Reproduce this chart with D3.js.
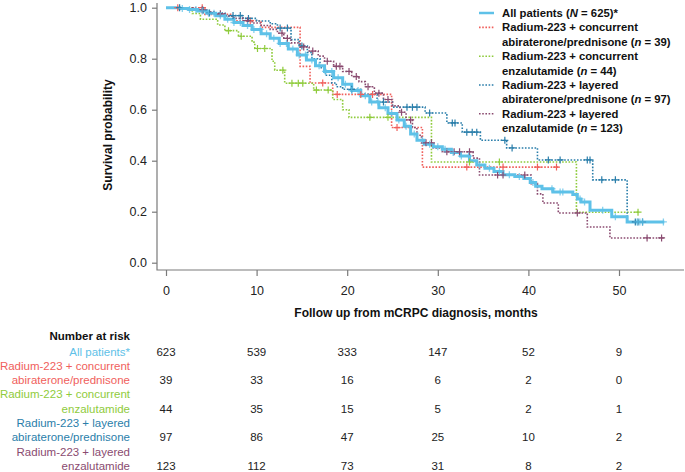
<!DOCTYPE html>
<html><head><meta charset="utf-8">
<script src="https://cdn.jsdelivr.net/npm/d3@7"></script>
<style>
html,body{margin:0;padding:0;background:#fff;}
svg{display:block;font-family:"Liberation Sans",Arial,Helvetica,sans-serif;}
</style></head>
<body>
<svg id="chart" width="685" height="472"></svg>
<script>
// ---------------- data ----------------
const monthTicks = [0, 10, 20, 30, 40, 50];
const survTicks = [0, 0.2, 0.4, 0.6, 0.8, 1.0];

const allPatientsSteps = [[0,1],[1.5,0.997],[2.5,0.993],[3.5,0.987],[4.5,0.978],[5.5,0.968],[6.5,0.955],[7.5,0.942],[8.5,0.93],[9.5,0.915],[10.5,0.898],[11.5,0.88],[12.5,0.86],[13.5,0.838],[14.5,0.815],[15.5,0.795],[16.5,0.772],[17.5,0.75],[18.5,0.725],[19.5,0.7],[20.5,0.675],[21.5,0.655],[22.5,0.63],[23.5,0.608],[24.5,0.585],[25.5,0.56],[26.3,0.535],[27,0.505],[27.7,0.48],[28.5,0.465],[29.5,0.455],[30.5,0.445],[31.5,0.432],[32.5,0.418],[33.5,0.4],[34.3,0.383],[35.2,0.37],[36.2,0.358],[37.2,0.345],[38.5,0.338],[39.5,0.33],[40.2,0.315],[40.8,0.3],[41.5,0.29],[42.7,0.277],[44.9,0.267],[45.4,0.25],[45.8,0.238],[46.8,0.206],[49.2,0.18],[50.9,0.16],[55,0.16]];
const allPatientsCensor = [1.8,2.6,3.3,4.0,4.7,5.3,6.0,6.8,7.5,8.2,9.0,9.7,10.4,11.1,11.9,12.6,13.3,14.0,14.7,15.4,16.1,16.9,17.6,18.3,19.0,19.8,20.5,21.2,22.0,22.7,23.4,24.2,24.9,25.7,26.5,27.4,28.3,29.1,30.0,30.8,31.7,32.6,33.4,34.6,35.7,36.8,37.9,39.0,40.5,42.6,43.5,43.8,45.7,46.2,48.2,49.6,52.0,52.3,52.6,54.9];

const concAbiSteps = [[0,1],[4.3,0.974],[7.3,0.949],[10.5,0.923],[14.8,0.77],[15.9,0.705],[18.4,0.66],[24.9,0.53],[28.3,0.375],[43.3,0.375]];
const concAbiCensor = [1.3,4.0,9.3,17.3,18.9,21.5,22.8,25.5,33.2,37.2,41.0,43.1];

const concEnzaSteps = [[0,1],[2.9,0.977],[3.8,0.955],[5.7,0.932],[6.5,0.91],[8.0,0.888],[9.5,0.865],[9.8,0.84],[11.7,0.79],[12.0,0.755],[13.1,0.704],[16.3,0.677],[18.4,0.64],[19.5,0.6],[20.2,0.57],[29.3,0.395],[45.3,0.198],[52.2,0.198]];
const concEnzaCensor = [6.9,8.3,10.1,10.9,12.9,13.9,14.6,15.1,16.6,17.9,22.5,24.5,33.5,36.8,52.1];

const layAbiSteps = [[0,1],[2.5,0.99],[4.5,0.979],[6.5,0.969],[8.5,0.958],[10,0.948],[11.5,0.937],[12.3,0.92],[13.8,0.875],[14.7,0.85],[15.6,0.825],[16.1,0.8],[17,0.765],[17.6,0.735],[18.3,0.705],[18.8,0.69],[19.5,0.68],[21.5,0.66],[23.3,0.63],[25,0.61],[28.6,0.587],[31.0,0.548],[32.7,0.512],[34.7,0.48],[37.6,0.45],[41.0,0.403],[47.1,0.325],[50.9,0.16],[52.9,0.16]];
const layAbiCensor = [1.5,4.1,4.8,7.4,8.2,9.1,12.6,13.4,15.0,20.5,24.0,26.6,27.2,27.7,29.1,31.6,31.9,33.2,33.8,34.3,37.4,38.2,42.2,43.5,46.5,46.8,48.1,49.6,51.8,52.1,52.6];

const layEnzaSteps = [[0,1],[3,0.992],[4.5,0.984],[5.5,0.976],[6.5,0.967],[7.5,0.958],[8.5,0.949],[9.5,0.94],[10.5,0.93],[11.5,0.915],[12.3,0.9],[13,0.88],[13.8,0.862],[14.8,0.846],[15.8,0.83],[16.8,0.81],[17.5,0.79],[18.5,0.77],[19.5,0.75],[20.5,0.73],[21.3,0.71],[22,0.69],[23,0.665],[24,0.64],[25,0.615],[25.8,0.59],[26.5,0.56],[27.2,0.53],[27.7,0.5],[28.2,0.47],[29.5,0.45],[30.5,0.435],[33.9,0.41],[34.6,0.344],[40.3,0.31],[41,0.27],[41.6,0.234],[43.3,0.195],[46.5,0.14],[49,0.097],[55.1,0.097]];
const layEnzaCensor = [4,6,9,12.8,13.4,15.2,16.2,17.8,18.8,19.2,20.2,21,22.3,23.5,24.5,26,27,28.7,29.3,31,31.8,32.4,33.5,36.6,37.2,39.6,45.4,53.1,54.7];

const riskAll = [623,539,333,147,52,9];
const riskConcAbi = [39,33,16,6,2,0];
const riskConcEnza = [44,35,15,5,2,1];
const riskLayAbi = [97,86,47,25,10,2];
const riskLayEnza = [123,112,73,31,8,2];

const riskLabels = [["All patients*"],["Radium-223 + concurrent","abiraterone/prednisone"],["Radium-223 + concurrent","enzalutamide"],["Radium-223 + layered","abiraterone/prednisone"],["Radium-223 + layered","enzalutamide"]];

// ---------------- styling ----------------
const colAll = "#5ec1e8", colCA = "#f0605c", colCE = "#8fcb3c", colLA = "#2a7eaa", colLE = "#8a4b70";

const series = [
  {steps: concAbiSteps, censor: concAbiCensor, color: colCA, solid:false},
  {steps: concEnzaSteps, censor: concEnzaCensor, color: colCE, solid:false},
  {steps: layAbiSteps, censor: layAbiCensor, color: colLA, solid:false},
  {steps: layEnzaSteps, censor: layEnzaCensor, color: colLE, solid:false},
  {steps: allPatientsSteps, censor: allPatientsCensor, color: colAll, solid:true}
];

const svg = d3.select("#chart");
const x = d3.scaleLinear().domain([0, 50]).range([166, 619]);
const y = d3.scaleLinear().domain([0, 1]).range([262.7, 7.7]);

const axisCol = "#7a7a7a";
// axis lines (L frame)
svg.append("path").attr("d", `M157,3V270H684`).attr("fill","none").attr("stroke",axisCol).attr("stroke-width",1.2);

const yAxis = svg.append("g").attr("transform","translate(157,0)")
  .call(d3.axisLeft(y).tickValues(survTicks).tickFormat(d3.format(".1f")).tickSize(5).tickPadding(5));
const xAxis = svg.append("g").attr("transform","translate(0,270)")
  .call(d3.axisBottom(x).tickValues(monthTicks).tickSize(6).tickPadding(10));
[yAxis, xAxis].forEach(g => {
  g.select(".domain").remove();
  g.selectAll(".tick line").attr("stroke",axisCol).attr("stroke-width",1.2);
  g.selectAll(".tick text").attr("fill","#222").style("font-size","12.5px").style("font-family","'Liberation Sans',Arial,sans-serif");
});

svg.append("text").attr("transform","translate(112,135) rotate(-90)").attr("text-anchor","middle")
  .style("font-size","12px").style("font-weight","bold").attr("fill","#111").text("Survival probability");
svg.append("text").attr("x",416).attr("y",317).attr("text-anchor","middle")
  .style("font-size","12px").style("font-weight","bold").attr("fill","#111").text("Follow up from mCRPC diagnosis, months");

// curves
const line = d3.line().x(d=>x(d[0])).y(d=>y(d[1])).curve(d3.curveStepAfter);
function survAt(steps, t){ let s = steps[0][1]; for (const p of steps){ if (p[0] <= t) s = p[1]; } return s; }

const plot = svg.append("g");
series.forEach(s => {
  plot.append("path").datum(s.steps).attr("d", line).attr("fill","none")
    .attr("stroke", s.color).attr("stroke-width", s.solid ? 3 : 1.6)
    .attr("stroke-dasharray", s.solid ? null : "1.6,1.6");
});
// censor marks
series.forEach(s => {
  const g = plot.append("g").attr("stroke", s.color).attr("stroke-width", s.solid ? 1.3 : 1.2).attr("opacity", s.solid ? 0.75 : 1);
  g.selectAll("path").data(s.censor).join("path")
    .attr("d", t => { const cx = x(t), cy = y(survAt(s.steps, t)); return `M${cx-3.5},${cy}H${cx+3.5}M${cx},${cy-3.5}V${cy+3.5}`; });
});

// legend
const legendItems = [
  {color: colAll, solid: true, lines: [[["All patients (",false],["N",true],[" = 625)*",false]]]},
  {color: colCA, solid: false, lines: [[["Radium-223 + concurrent",false]],[["abiraterone/prednisone (",false],["n",true],[" = 39)",false]]]},
  {color: colCE, solid: false, lines: [[["Radium-223 + concurrent",false]],[["enzalutamide (",false],["n",true],[" = 44)",false]]]},
  {color: colLA, solid: false, lines: [[["Radium-223 + layered",false]],[["abiraterone/prednisone (",false],["n",true],[" = 97)",false]]]},
  {color: colLE, solid: false, lines: [[["Radium-223 + layered",false]],[["enzalutamide (",false],["n",true],[" = 123)",false]]]}
];
const leg = svg.append("g");
let ly = 13;
const lineH = 14.4;
legendItems.forEach(item => {
  leg.append("line").attr("x1",479).attr("x2",494).attr("y1",ly).attr("y2",ly)
    .attr("stroke",item.color).attr("stroke-width", item.solid ? 2.5 : 1.6)
    .attr("stroke-dasharray", item.solid ? null : "1.6,1.6");
  item.lines.forEach((ln, i) => {
    const t = leg.append("text").attr("x",502).attr("y", ly + i*lineH + 4).style("font-size","11.3px").style("font-weight","bold").attr("fill","#111");
    ln.forEach(([str, it]) => t.append("tspan").style("font-style", it ? "italic" : "normal").text(str));
  });
  ly += item.lines.length * lineH;
});

// number at risk table
const risk = svg.append("g").style("font-size","11.5px");
risk.append("text").attr("x",130).attr("y",340).attr("text-anchor","end").style("font-weight","bold").attr("fill","#111").text("Number at risk");
const riskRows = [riskAll, riskConcAbi, riskConcEnza, riskLayAbi, riskLayEnza];
const riskCols = [colAll, colCA, colCE, colLA, colLE];
let ry = 355.5;
riskRows.forEach((row, i) => {
  const labs = riskLabels[i];
  labs.forEach((l, j) => {
    risk.append("text").attr("x",130).attr("y", ry + j*14.3).attr("text-anchor","end").attr("fill", riskCols[i]).text(l);
  });
  const rowY = ry + (labs.length-1)*14.3;
  risk.selectAll(null).data(row).join("text")
    .attr("x",(d,k)=>x(monthTicks[k])).attr("y",rowY).attr("text-anchor","middle").attr("fill","#222").text(d=>d);
  ry += labs.length*14.3;
});
</script>
</body></html>
